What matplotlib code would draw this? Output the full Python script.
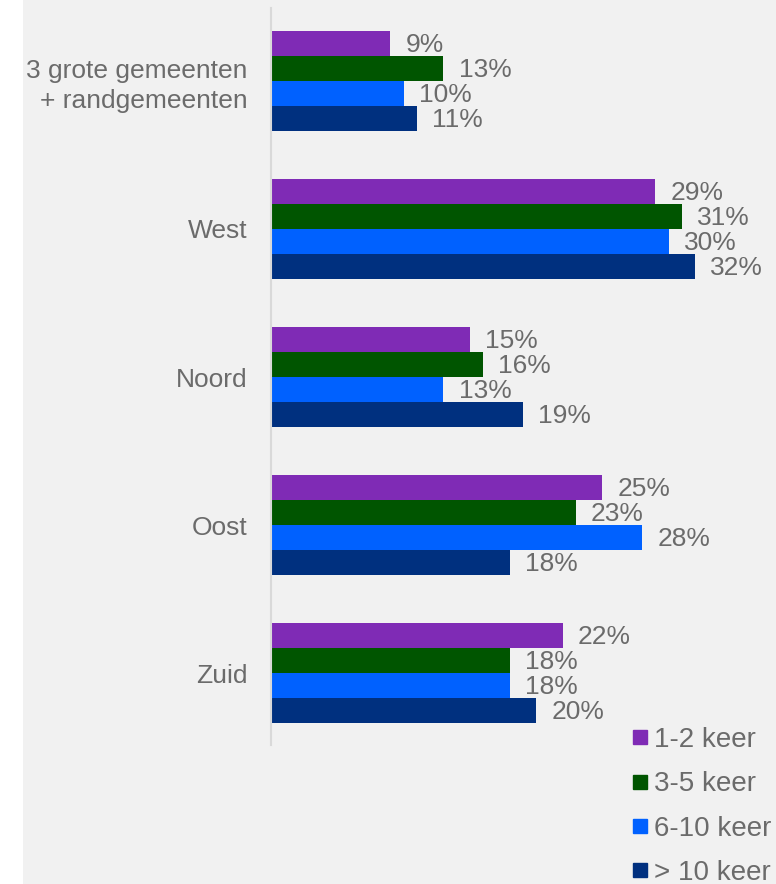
import matplotlib.pyplot as plt
from matplotlib.lines import Line2D
from matplotlib.patches import Rectangle
import numpy as np

plt.rcParams['font.family'] = ['Liberation Sans', 'DejaVu Sans']

regions = ['3 grote gemeenten\n+ randgemeenten', 'West', 'Noord', 'Oost', 'Zuid']
series = ['1-2 keer', '3-5 keer', '6-10 keer', '> 10 keer']
colors = ['#7f2bb5', '#005500', '#0061ff', '#00307f']
values = [
    [9, 29, 15, 25, 22],
    [13, 31, 16, 23, 18],
    [10, 30, 13, 28, 18],
    [11, 32, 19, 18, 20],
]

W, H = 776, 884
fig = plt.figure(figsize=(W / 100, H / 100), dpi=100, facecolor='#f1f1f1')
fig.patches.append(Rectangle((0, 0), 23 / W, 1, transform=fig.transFigure,
                             facecolor='white', edgecolor='none', zorder=0))

ax = fig.add_axes([271 / W, 1 - 745 / H, 1 - 271 / W, 737 / H])
ax.set_facecolor('none')
txt = '#6b6b6b'

y = np.arange(len(regions))
h = 25 / 148
offs = [-1.5, -0.5, 0.5, 1.5]
for vals, c, o, name in zip(values, colors, offs, series):
    bars = ax.barh(y + o * h, vals, height=h, color=c, label=name)
    for b, v in zip(bars, vals):
        ax.annotate(f'{v}%', (b.get_width(), b.get_y() + b.get_height() / 2),
                    xytext=(11, -1), textcoords='offset points',
                    ha='left', va='center', fontsize=19, color=txt)

ax.set_xlim(0, 505 / 13.25)
ax.set_ylim(4.486, -0.493)
ax.set_yticks(y)
ax.set_yticklabels(regions, fontsize=19, color=txt, linespacing=1.28)
ax.tick_params(axis='y', length=0, pad=17)
ax.set_xticks([])
for s in ['top', 'right', 'bottom']:
    ax.spines[s].set_visible(False)
ax.spines['left'].set_color('#d9d9d9')
ax.spines['left'].set_linewidth(1.5)

handles = [Line2D([], [], marker='s', linestyle='none', markersize=10,
                  markerfacecolor=c, markeredgecolor=c) for c in colors]
fig.legend(handles, series, loc='upper left',
           bbox_to_anchor=(631.5 / W, 1 - 727 / H), frameon=False,
           fontsize=20, labelcolor=txt, handlelength=0.6, handletextpad=0.2,
           borderpad=0, borderaxespad=0, labelspacing=0.66)

fig.savefig('out.png', dpi=100, facecolor=fig.get_facecolor())
